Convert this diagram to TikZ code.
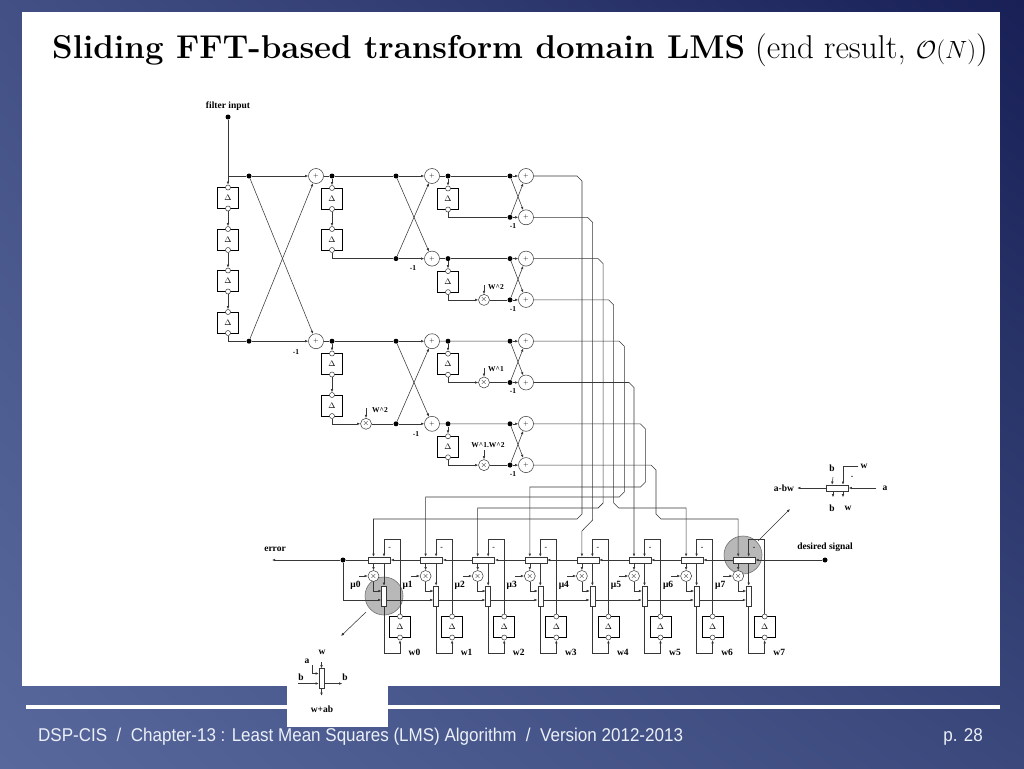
\documentclass[tikz,border=0pt]{standalone}
\usepackage{fontspec}
\usepackage{amsmath}
\usetikzlibrary{arrows.meta,calc,positioning,shadings}
\newfontfamily\tnr{Liberation Serif}
\newfontfamily\ars[FakeStretch=0.92]{Liberation Sans}
\definecolor{bgul}{RGB}{66,80,134}
\definecolor{bgur}{RGB}{24,32,86}
\definecolor{bgll}{RGB}{88,104,156}
\definecolor{bglr}{RGB}{58,72,124}
\definecolor{footc}{RGB}{236,240,248}
\definecolor{hlc}{RGB}{184,184,184}
\definecolor{wirec}{RGB}{55,55,55}
\tikzset{
  wire/.style={draw=wirec,line width=0.55pt},
  arr/.style={wire,-{Latex[length=3.2pt,width=2.6pt]}},
  addr/.style={circle,draw=wirec,line width=0.5pt,fill=white,minimum size=15pt,inner sep=0pt,font=\fontsize{6}{6}\selectfont},
  mult/.style={circle,draw=wirec,line width=0.5pt,fill=white,minimum size=11pt,inner sep=0pt,font=\fontsize{8}{8}\selectfont},
  dly/.style={rectangle,draw=black,line width=0.8pt,fill=white,minimum width=21pt,minimum height=21pt,inner sep=0pt,font=\fontsize{8}{8}\selectfont},
  port/.style={circle,draw=wirec,line width=0.5pt,fill=white,minimum size=5pt,inner sep=0pt},
  dot/.style={circle,fill=black,minimum size=5pt,inner sep=0pt},
  hblk/.style={rectangle,draw=wirec,line width=0.5pt,fill=white,minimum width=22pt,minimum height=6pt,inner sep=0pt},
  vblk/.style={rectangle,draw=wirec,line width=0.5pt,fill=white,minimum width=5pt,minimum height=20pt,inner sep=0pt},
  lbl/.style={font=\tnr\bfseries\fontsize{9.5}{10}\selectfont,inner sep=0pt},
  slbl/.style={font=\tnr\bfseries\fontsize{7.5}{8}\selectfont,inner sep=0pt},
  delay/.pic={
    \node[dly] (-box) at (0,0) {$\Delta$};
    \node[port] (-t) at (0,-10.5) {};
    \node[port] (-b) at (0,10.5) {};
  }
}
\begin{document}
\begin{tikzpicture}[x=1pt,y=-1pt]
\useasboundingbox (0,0) rectangle (1024,768);
\shade[upper left=bgul,upper right=bgur,lower left=bgll,lower right=bglr] (0,0) rectangle (1024,768);
\fill[white] (22,12) rectangle (1000,686);
\fill[white] (26,705) rectangle (1000,709);
\fill[white] (287,640) rectangle (388,727);
\node[anchor=base west,inner sep=0pt,font=\fontsize{33}{35}\selectfont] (title) at (52,59) {\textbf{Sliding FFT-based transform domain LMS} (end result, $\mathcal{O}(N)$)};
\node[anchor=base west,inner sep=0pt,font=\ars\fontsize{18.5}{20}\selectfont,text=footc] (foot) at (38,741) {DSP-CIS~~/~~Chapter-13 : Least Mean Squares (LMS) Algorithm~~/~~Version 2012-2013};
\node[anchor=base east,inner sep=0pt,font=\ars\fontsize{18.5}{20}\selectfont,text=footc] (page) at (983,741) {p. 28};

% highlights
\fill[hlc,draw=black!55,line width=0.6pt] (743,555) circle (19pt);
\fill[hlc,draw=black!55,line width=0.6pt] (384,596) circle (19pt);
\draw[arr] (758,541) -- (790,509);
\draw[arr] (366,612) -- (341,636);

% first butterfly
\node[dot] (IN) at (228,117) {};
\node[lbl,above=4pt of IN] {filter input};
\coordinate (J1) at (228,176);
\foreach \i in {1,...,4} \pic (D\i) at (228,{156.5+41.5*\i}) {delay};
\node[dot] (P1) at (249,176) {};
\node[dot] (Q1) at (249,341.2) {};
\node[addr] (S1a) at (316,176) {+};
\node[addr] (S1b) at (316,341.2) {+};
\draw[wire] (IN) -- (J1) -- (P1);
\draw[arr] (J1) -- (D1-t);
\foreach \i [count=\n from 2] in {1,2,3} \draw[arr] (D\i-b) -- (D\n-t);
\draw[wire] (D4-b) |- (Q1);
\draw[arr] (P1) -- (S1a);
\draw[arr] (Q1) -- (S1b);
\draw[arr] (P1) -- (S1b);
\draw[arr] (Q1) -- (S1a);
\node[slbl] at (296,352) {-1};

% second stage, upper
\node[dot] (P2) at (332,176) {};
\node[dot] (P3) at (396,176) {};
\node[dot] (Q3) at (396,258.6) {};
\node[addr] (S2a) at (432,176) {+};
\node[addr] (S2b) at (432,258.6) {+};
\pic (E1) at (332,198.5) {delay};
\pic (E2) at (332,239.5) {delay};
\draw[wire] (S1a) -- (P2) -- (P3);
\draw[arr] (P2) -- (E1-t);
\draw[arr] (E1-b) -- (E2-t);
\draw[wire] (E2-b) |- (Q3);
\draw[arr] (P3) -- (S2a);
\draw[arr] (Q3) -- (S2b);
\draw[arr] (P3) -- (S2b);
\draw[arr] (Q3) -- (S2a);
\node[slbl] at (413,268) {-1};

% second stage, lower
\node[dot] (R2) at (332,341.2) {};
\node[dot] (R3) at (396,341.2) {};
\node[dot] (T3) at (396,423.8) {};
\node[addr] (S2c) at (432,341.2) {+};
\node[addr] (S2d) at (432,423.8) {+};
\pic (F1) at (332,364) {delay};
\pic (F2) at (332,405.5) {delay};
\node[mult] (Z1) at (366,423.8) {$\times$};
\draw[wire] (S1b) -- (R2) -- (R3);
\draw[arr] (R2) -- (F1-t);
\draw[arr] (F1-b) -- (F2-t);
\draw[arr] (F2-b) |- (Z1);
\draw[wire] (Z1) -- (T3);
\draw[arr] ([yshift=10pt]Z1.north) -- (Z1.north);
\node[slbl,anchor=west] at (372,410) {W\textasciicircum 2};
\draw[arr] (R3) -- (S2c);
\draw[arr] (T3) -- (S2d);
\draw[arr] (R3) -- (S2d);
\draw[arr] (T3) -- (S2c);
\node[slbl] at (416,434) {-1};

% third stage
\foreach \q/\src in {0/S2a,1/S2b,2/S2c,3/S2d}{
  \pgfmathsetmacro\yt{176+82.6*\q}
  \pgfmathsetmacro\yb{\yt+41.3}
  \pgfmathtruncatemacro\jt{2*\q}
  \pgfmathtruncatemacro\jb{2*\q+1}
  \node[dot] (U\q) at (448,\yt) {};
  \node[dot] (X\jt) at (510,\yt) {};
  \node[dot] (X\jb) at (510,\yb) {};
  \node[addr] (O\jt) at (526,\yt) {+};
  \node[addr] (O\jb) at (526,\yb) {+};
  \pic (G\q) at (448,{\yt+23}) {delay};
  \draw[wire] (\src) -- (U\q) -- (X\jt);
  \draw[arr] (U\q) -- (G\q-t);
  \ifnum\q=0
    \draw[wire] (G\q-b) |- (X\jb);
  \else
    \node[mult] (W\q) at (484,\yb) {$\times$};
    \draw[arr] (G\q-b) |- (W\q);
    \draw[wire] (W\q) -- (X\jb);
    \draw[arr] ([yshift=9pt]W\q.north) -- (W\q.north);
  \fi
  \draw[arr] (X\jt) -- (O\jt);
  \draw[arr] (X\jb) -- (O\jb);
  \draw[arr] (X\jt) -- (O\jb);
  \draw[arr] (X\jb) -- (O\jt);
  \node[slbl] at (513,{\yb+9}) {-1};
}
\node[slbl,anchor=west] at (488,287) {W\textasciicircum 2};
\node[slbl,anchor=west] at (488,369) {W\textasciicircum 1};
\node[slbl] at (488,445) {W\textasciicircum 1.W\textasciicircum 2};

% LMS cells
\foreach \k in {0,...,7}{
  \pgfmathsetmacro\cx{379.5+52.1*\k}
  \node[hblk] (H\k) at (\cx,560) {};
  \node[mult] (Y\k) at ({\cx-6},576) {$\times$};
  \node[vblk] (V\k) at ({\cx+4.5},596) {};
  \pic (L\k) at ({\cx+20.5},627) {delay};
  \coordinate (T\k) at ({\cx+4.5},539);
  \coordinate (B\k) at ({\cx+4.5},653);
  \coordinate (C\k) at ({\cx+2},591);
  \draw[arr] (L\k-t) |- (T\k) -- (V\k |- H\k.north);
  \draw[arr] (Y\k |- H\k.south) -- (Y\k);
  \draw[arr] (V\k |- H\k.south) -- (V\k);
  \draw[arr] (Y\k) |- (C\k);
  \draw[arr] ([xshift=-9pt]Y\k.west) -- (Y\k);
  \draw[arr] (V\k) -- (B\k) -| (L\k-b);
  \node[lbl] at ({\cx-24},585) {μ\k};
  \node[lbl] at ({\cx+35},652) {w\k};
  \node[slbl] at ({\cx+10},548) {-};
}

% error and desired signal
\node[dot] (Ds) at (825,560) {};
\node[lbl,above=6pt of Ds] {desired signal};
\node[dot] (Er) at (343,560) {};
\coordinate (Eo) at (272,560);
\node[lbl] at (275,549) {error};
\draw[arr] (Ds) -- (H7);
\foreach \k [count=\n from 0] in {1,...,7} \draw[arr] (H\k) -- (H\n);
\draw[wire] (H0) -- (Er);
\draw[arr] (Er) -- (Eo);
\draw[arr] (Er) |- ($(V0.west)+(0,4)$);
\foreach \k [count=\n from 1] in {0,...,6} \draw[arr] ($(V\k.east)+(0,4)$) -- ($(V\n.west)+(0,4)$);

% transform outputs to the cells
\draw[arr] (O0) -- (577,176) -- (582,181) -- (582,514) -- (577,519) -| (Y0 |- H0.north);
\draw[arr] (O1) -- (587.6,217.3) -- (592.6,222.3) -- (592.6,520) -- (581.9,531) -- (Y4 |- H4.north);
\draw[arr] (O2) -- (598.1,258.6) -- (603.1,263.6) -- (603.1,503) -- (598.1,508) -| (Y2 |- H2.north);
\draw[arr] (O3) -- (608.7,299.9) -- (613.7,304.9) -- (613.7,503) -- (618.7,508) -| (Y6 |- H6.north);
\draw[arr] (O4) -- (619.3,341.2) -- (624.3,346.2) -- (624.3,492) -- (619.3,497) -| (Y1 |- H1.north);
\draw[arr] (O5) -- (629,382.5) -- (634,387.5) -- (Y5 |- H5.north);
\draw[arr] (O6) -- (640.4,423.8) -- (645.4,428.8) -- (645.4,482) -- (640.4,487) -| (Y3 |- H3.north);
\draw[arr] (O7) -- (651,465.1) -- (656,470.1) -- (656,514) -- (661,519) -| (Y7 |- H7.north);

% key: update block
\node[hblk] (LH) at (837.5,488) {};
\node[lbl] (Lb1) at (832,468) {b};
\node[lbl] (Lw1) at (864,466) {w};
\node[lbl] (La) at (885,488) {a};
\node[lbl] (Lab) at (784,488) {a-bw};
\node[lbl] at (832,508) {b};
\node[lbl] at (848,508) {w};
\node[slbl] at (852,477) {-};
\draw[arr] (833,477) -- (Lb1 |- LH.north);
\draw[arr] ([xshift=-2pt]Lw1.west) -| ($(LH.north)+(5.5,0)$);
\draw[arr] ([xshift=-6pt]La.west) -- (LH.east);
\draw[arr,shorten >=3pt] (LH.west) -- (Lab.east);
\draw[arr] ($(LH.south)+(-4.5,0)$) -- ++(0,6);
\draw[arr] ($(LH.south)+(5.5,0)$) -- ++(0,6);

% key: weight block
\node[vblk] (LV) at (321.5,678.5) {};
\node[lbl] (Lw2) at (322,652) {w};
\node[lbl] (La2) at (307,661) {a};
\node[lbl] at (301,677) {b};
\node[lbl] at (345,677) {b};
\node[lbl] (Lwab) at (322,709) {w+ab};
\draw[arr] ([yshift=6pt]LV.north) -- (LV.north);
\draw[arr] (312,665) |- ($(LV.west)+(0,-5)$);
\draw[arr] (298,683.5) -- ($(LV.west)+(0,5)$);
\draw[arr] ($(LV.east)+(0,5)$) -- ++(18,0);
\draw[arr] (LV.south) -- ++(0,7);
\end{tikzpicture}
\end{document}
